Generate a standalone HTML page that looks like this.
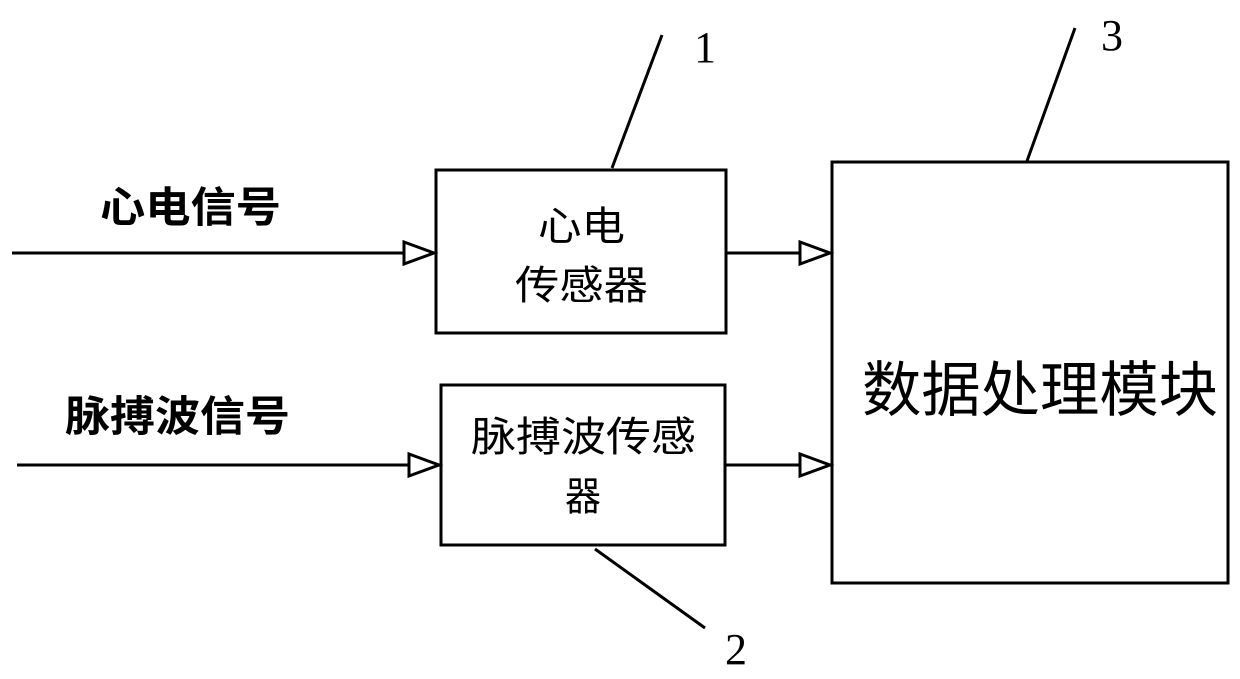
<!DOCTYPE html>
<html><head><meta charset="utf-8"><style>
html,body{margin:0;padding:0;background:#fff}
svg{display:block}
.c{font-family:"Liberation Sans","Noto Sans CJK SC",sans-serif;fill:#000}
.n{font-family:"Liberation Serif",serif;fill:#000;font-size:44px}
</style></head><body>
<svg width="1240" height="679" viewBox="0 0 1240 679" xmlns="http://www.w3.org/2000/svg">
<g fill="none" stroke="#000" stroke-width="3">
<rect x="436" y="170" width="290" height="163"/>
<rect x="441" y="385" width="284" height="160"/>
<rect x="832" y="162" width="396" height="421"/>
<line x1="12" y1="253" x2="404" y2="253"/>
<polygon points="404,242 404,264 434,253"/>
<line x1="17" y1="465" x2="409" y2="465"/>
<polygon points="409,454 409,476 439,465"/>
<line x1="726" y1="253" x2="800" y2="253"/>
<polygon points="800,242 800,264 830,253"/>
<line x1="725" y1="465" x2="800" y2="465"/>
<polygon points="800,454 800,476 830,465"/>
<line x1="612" y1="168" x2="662" y2="35"/>
<line x1="1027" y1="161" x2="1075" y2="28"/>
<line x1="595" y1="549" x2="705" y2="628"/>
</g>
<text class="c" x="100" y="222" font-size="42" font-weight="bold" textLength="181" lengthAdjust="spacingAndGlyphs">心电信号</text>
<text class="c" x="65" y="431" font-size="42" font-weight="bold" textLength="225" lengthAdjust="spacingAndGlyphs">脉搏波信号</text>
<text class="c" x="538" y="240" font-size="40" textLength="87" lengthAdjust="spacingAndGlyphs">心电</text>
<text class="c" x="515" y="299" font-size="40" textLength="133" lengthAdjust="spacingAndGlyphs">传感器</text>
<text class="c" x="471" y="451" font-size="41" textLength="225" lengthAdjust="spacingAndGlyphs">脉搏波传感</text>
<text class="c" x="565" y="510" font-size="40" textLength="36" lengthAdjust="spacingAndGlyphs">器</text>
<text class="c" x="862" y="411" font-size="60" textLength="356" lengthAdjust="spacingAndGlyphs">数据处理模块</text>
<text class="n" x="705" y="62" text-anchor="middle">1</text>
<text class="n" x="1112" y="50" text-anchor="middle">3</text>
<text class="n" x="736" y="664" text-anchor="middle">2</text>
</svg>
</body></html>
